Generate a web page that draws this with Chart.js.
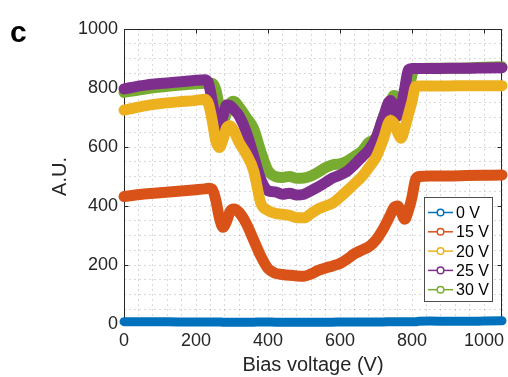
<!DOCTYPE html>
<html>
<head>
<meta charset="utf-8">
<script src="https://cdn.jsdelivr.net/npm/chart.js@4"></script>
<style>
  html, body { margin: 0; padding: 0; background: #fff; }
  #wrap { position: relative; width: 508px; height: 377px; }
</style>
</head>
<body>
<div id="wrap"><canvas id="chart" width="508" height="377"></canvas></div>
<script>
// Bias voltage sample points (V)
const biasVoltage = [0, 50, 100, 150, 200, 225, 235, 245, 255, 265, 275, 285, 295, 305, 320, 340, 360, 380, 400, 420,
  440, 460, 480, 500, 520, 540, 560, 580, 600, 620, 640, 660, 680, 700, 720, 740, 750, 760, 770, 780,
  790, 800, 810, 820, 850, 900, 950, 1000, 1050];

// Signal (A.U.) for each applied voltage
const signal0V  = [8, 8, 8, 7, 7, 7, 7, 7, 7, 7, 6, 6, 6, 6, 6, 6, 6, 7, 7, 6,
  6, 6, 6, 6, 6, 6, 6, 6, 7, 7, 7, 7, 7, 7, 7, 8, 8, 8, 8, 8,
  8, 8, 8, 9, 10, 9, 9, 10, 11];
const signal15V = [432, 440, 445, 450, 455, 458, 460, 457, 420, 360, 328, 348, 382, 390, 378, 340, 285, 230, 188, 172,
  168, 165, 163, 162, 170, 182, 190, 197, 205, 220, 238, 250, 262, 285, 322, 370, 395, 400, 378, 355,
  385, 430, 490, 500, 502, 502, 503, 504, 505];
const signal20V = [725, 738, 747, 753, 758, 762, 745, 690, 620, 598, 625, 665, 672, 655, 615, 575, 520, 410, 385, 375,
  372, 368, 360, 360, 375, 390, 400, 410, 430, 452, 475, 499, 530, 565, 625, 690, 680, 650, 630, 665,
  710, 755, 805, 807, 807, 807, 808, 808, 808];
const signal25V = [797, 808, 815, 820, 826, 828, 815, 755, 690, 670, 705, 742, 740, 728, 705, 650, 570, 490, 452, 448,
  440, 443, 437, 440, 452, 465, 480, 495, 505, 518, 540, 565, 590, 630, 700, 758, 735, 705, 740, 800,
  862, 866, 866, 866, 866, 867, 867, 868, 869];
const signal30V = [785, 795, 803, 809, 814, 816, 817, 816, 795, 735, 690, 715, 748, 755, 735, 700, 662, 585, 520, 500,
  497, 500, 494, 495, 502, 515, 530, 540, 543, 552, 568, 585, 615, 632, 700, 750, 775, 765, 742, 732,
  775, 845, 863, 866, 867, 867, 868, 870, 872];

const seriesLabels = ['0 V', '15 V', '20 V', '25 V', '30 V'];
const seriesColors = ['#0072BD', '#D95319', '#EDB120', '#7E2F8E', '#77AC30'];
const seriesValues = [signal0V, signal15V, signal20V, signal25V, signal30V];

// Labelled (major) ticks
const xMajorTicks = [0, 200, 400, 600, 800, 1000];
const yMajorTicks = [0, 200, 400, 600, 800, 1000];

const FONT = '"Liberation Sans", Arial, Helvetica, sans-serif';

const datasets = seriesValues.map((vals, i) => ({
  label: seriesLabels[i],
  data: biasVoltage.map((v, k) => ({ x: v, y: vals[k] })),
  borderColor: seriesColors[i],
  backgroundColor: seriesColors[i],
  borderWidth: i === 0 ? 9 : 11,
  borderCapStyle: 'round',
  borderJoinStyle: 'round',
  cubicInterpolationMode: 'monotone',
  pointRadius: 0,
  clip: false
}));

// Axes box with inward-pointing major ticks on all four sides
const framePlugin = {
  id: 'frame',
  beforeDatasetsDraw(chart) {
    const { ctx, chartArea: a, scales: { x, y } } = chart;
    ctx.save();
    ctx.strokeStyle = '#262626';
    ctx.lineWidth = 1;
    const L = Math.round(a.left) + 0.5, R = Math.round(a.right) - 0.5;
    const T = Math.round(a.top) + 0.5, B = Math.round(a.bottom) - 0.5;
    ctx.strokeRect(L, T, R - L, B - T);
    const tl = 4;
    ctx.beginPath();
    xMajorTicks.forEach(v => {
      const px = Math.round(x.getPixelForValue(v)) + 0.5;
      ctx.moveTo(px, B); ctx.lineTo(px, B - tl);
      ctx.moveTo(px, T); ctx.lineTo(px, T + tl);
    });
    yMajorTicks.forEach(v => {
      const py = Math.round(y.getPixelForValue(v)) + 0.5;
      ctx.moveTo(L, py); ctx.lineTo(L + tl, py);
      ctx.moveTo(R, py); ctx.lineTo(R - tl, py);
    });
    ctx.stroke();
    ctx.restore();
  }
};

// Boxed legend in the lower right of the plot, line-with-circle markers
const legendBoxPlugin = {
  id: 'legendBox',
  afterDraw(chart) {
    const { ctx } = chart;
    const bx = 424.5, by = 197.5, bw = 68, bh = 104;
    ctx.save();
    ctx.fillStyle = '#fff';
    ctx.fillRect(bx, by, bw, bh);
    ctx.strokeStyle = '#4d4d4d';
    ctx.lineWidth = 1;
    ctx.strokeRect(bx, by, bw, bh);
    ctx.font = '16px ' + FONT;
    ctx.textBaseline = 'middle';
    ctx.textAlign = 'left';
    chart.data.datasets.forEach((ds, i) => {
      const cy = 212.5 + i * 19.3;
      ctx.strokeStyle = ds.borderColor;
      ctx.lineWidth = 1.5;
      ctx.beginPath();
      ctx.moveTo(428, cy); ctx.lineTo(453, cy);
      ctx.stroke();
      ctx.fillStyle = '#fff';
      ctx.beginPath();
      ctx.arc(440.5, cy, 3.3, 0, Math.PI * 2);
      ctx.fill();
      ctx.stroke();
      ctx.fillStyle = '#000';
      ctx.fillText(ds.label, 456, cy + 1);
    });
    ctx.restore();
  }
};

// Panel letter
const panelLetterPlugin = {
  id: 'panelLetter',
  afterDraw(chart) {
    const { ctx } = chart;
    ctx.save();
    ctx.font = 'bold 30px ' + FONT;
    ctx.fillStyle = '#000';
    ctx.textBaseline = 'alphabetic';
    ctx.fillText('c', 10, 42);
    ctx.restore();
  }
};

const gridStyle = {
  color: 'rgba(0,0,0,0.15)',
  lineWidth: 1,
  drawTicks: false
};

new Chart(document.getElementById('chart'), {
  type: 'line',
  data: { datasets },
  options: {
    responsive: false,
    devicePixelRatio: 1,
    animation: false,
    events: [],
    layout: { padding: { top: 29, right: 4, left: 0, bottom: 0 } },
    plugins: { legend: { display: false }, tooltip: { enabled: false } },
    scales: {
      x: {
        type: 'linear',
        min: 0,
        max: 1050,
        grid: gridStyle,
        border: { display: false, dash: [2, 3] },
        ticks: {
          stepSize: 40,
          autoSkip: false,
          maxRotation: 0,
          padding: 6,
          color: '#262626',
          font: { family: FONT, size: 18 },
          callback: v => (xMajorTicks.includes(v) ? String(v) : '')
        },
        title: {
          display: true,
          text: 'Bias voltage (V)',
          color: '#262626',
          font: { family: FONT, size: 20, lineHeight: 1 },
          padding: { top: 0, bottom: 2 }
        },
        afterFit: s => { s.height = 53; }
      },
      y: {
        type: 'linear',
        min: 0,
        max: 1000,
        grid: gridStyle,
        border: { display: false, dash: [2, 3] },
        ticks: {
          stepSize: 50,
          autoSkip: false,
          padding: 6,
          color: '#262626',
          font: { family: FONT, size: 18 },
          callback: v => (yMajorTicks.includes(v) ? String(v) : '')
        },
        title: {
          display: true,
          text: 'A.U.',
          color: '#262626',
          font: { family: FONT, size: 20, lineHeight: 1 },
          padding: { top: 50, bottom: 0 }
        },
        afterFit: s => { s.width = 124; }
      }
    }
  },
  plugins: [framePlugin, legendBoxPlugin, panelLetterPlugin]
});
</script>
</body>
</html>
